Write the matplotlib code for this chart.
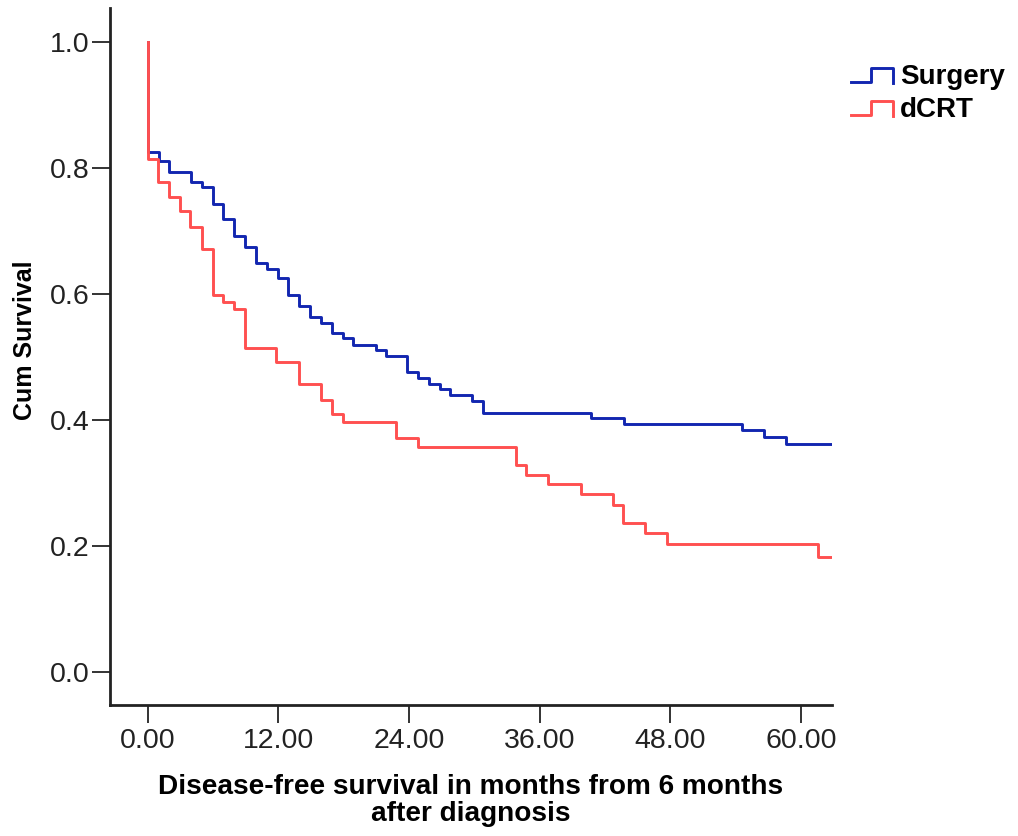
import numpy as np
import matplotlib
matplotlib.use("Agg")
import matplotlib.pyplot as plt
from matplotlib.legend_handler import HandlerBase
from matplotlib.lines import Line2D

plt.rcParams["font.family"] = ["Liberation Sans", "DejaVu Sans"]

# step times (months) and survival after each drop
surgery_t = [0, 1.07, 1.98, 3.97, 4.95, 5.96, 6.94, 7.95, 8.93, 9.91, 10.92, 11.93,
             12.9, 13.9, 14.89, 15.9, 16.97, 17.89, 18.86, 20.94, 21.86, 23.8, 24.8,
             25.8, 26.8, 27.8, 29.8, 30.8, 40.7, 43.7, 54.6, 56.6, 58.6]
surgery_s = [0.826, 0.811, 0.794, 0.778, 0.770, 0.744, 0.719, 0.692, 0.675, 0.649, 0.640,
             0.625, 0.598, 0.581, 0.564, 0.555, 0.538, 0.530, 0.520, 0.511, 0.502, 0.476,
             0.467, 0.458, 0.449, 0.440, 0.431, 0.412, 0.404, 0.394, 0.384, 0.373, 0.362]

dcrt_t = [0, 0.98, 1.98, 2.96, 3.88, 4.95, 5.96, 6.94, 7.95, 8.93, 11.8, 13.9, 15.9,
          16.9, 17.9, 22.8, 24.8, 33.8, 34.7, 36.75, 39.75, 42.7, 43.6, 45.7, 47.7, 61.5]
dcrt_s = [0.815, 0.778, 0.754, 0.732, 0.707, 0.672, 0.599, 0.588, 0.577, 0.515, 0.493,
          0.457, 0.432, 0.409, 0.397, 0.371, 0.357, 0.328, 0.313, 0.298, 0.283, 0.266,
          0.236, 0.220, 0.203, 0.182]

end_time = 63.0
blue = "#1226b0"
red = "#ff5050"


class StepHandler(HandlerBase):
    # legend key drawn as a small step, like SPSS does
    def create_artists(self, legend, orig_handle, xdescent, ydescent, width, height, fontsize, trans):
        x0 = -xdescent
        y0 = -ydescent
        x = [x0, x0 + width * 0.47, x0 + width * 0.47, x0 + width, x0 + width]
        y = [y0 + height * 0.1, y0 + height * 0.1, y0 + height * 0.8,
             y0 + height * 0.8, y0 + height * 0.05]
        ln = Line2D(x, y, color=orig_handle.get_color(), lw=orig_handle.get_linewidth(),
                    transform=trans)
        return [ln]


fig = plt.figure(figsize=(10.18, 8.36), dpi=100)
ax = fig.add_axes([0.108, 0.157, 0.709, 0.833])

for t, s, c, name in [(surgery_t, surgery_s, blue, "Surgery"), (dcrt_t, dcrt_s, red, "dCRT")]:
    tt = [0] + t + [end_time]
    ss = [1.0] + s + [s[-1]]
    ax.step(tt, ss, where="post", color=c, lw=2.1, label=name)

ax.set_xlim(-3.46, 62.8)
ax.set_ylim(-0.052, 1.054)
ax.set_xticks(np.arange(0, 61, 12))
ax.set_xticklabels(["%.2f" % v for v in np.arange(0, 61, 12)])
ax.set_yticks(np.arange(0, 1.01, 0.2))
ax.set_yticklabels(["%.1f" % v for v in np.arange(0, 1.01, 0.2)])
ax.tick_params(axis="both", labelsize=20.5, length=13, width=1.4, color="#333333", labelcolor="#222222")
ax.tick_params(axis="y", pad=1.5)
ax.tick_params(axis="x", pad=4)

for side in ["top", "right"]:
    ax.spines[side].set_visible(False)
for side in ["left", "bottom"]:
    ax.spines[side].set_linewidth(2.0)
    ax.spines[side].set_color("#222222")

ax.set_ylabel("Cum Survival", fontsize=18, fontweight="bold")
ax.yaxis.set_label_coords(-0.101, 0.524)
ax.set_xlabel("Disease-free survival in months from 6 months\nafter diagnosis",
              fontsize=20.2, fontweight="bold", linespacing=1.05, labelpad=14)

handles, labels = ax.get_legend_handles_labels()
leg = ax.legend(handles, labels, loc="upper left", bbox_to_anchor=(1.012, 0.936),
                frameon=False, handler_map={Line2D: StepHandler()},
                prop={"size": 20, "weight": "bold"}, handlelength=1.5,
                handletextpad=0.25, labelspacing=0.25, borderaxespad=0)

fig.savefig("out.png", dpi=100)
